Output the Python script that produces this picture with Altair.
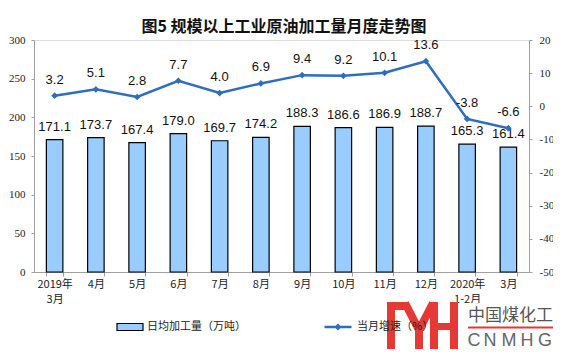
import altair as alt
import pandas as pd

# ---- data ----
months = ["2019年|3月", "4月", "5月", "6月", "7月", "8月", "9月", "10月",
          "11月", "12月", "2020年|1-2月", "3月"]
daily = [171.1, 173.7, 167.4, 179.0, 169.7, 174.2, 188.3, 186.6, 186.9, 188.7, 165.3, 161.4]
growth = [3.2, 5.1, 2.8, 7.7, 4.0, 6.9, 9.4, 9.2, 10.1, 13.6, -3.8, -6.6]
series_bar = "日均加工量（万吨）"
series_line = "当月增速（%）"
title_text = "图5 规模以上工业原油加工量月度走势图"
left_ticks = [0, 50, 100, 150, 200, 250, 300]
right_ticks = [-50, -40, -30, -20, -10, 0, 10, 20]

df = pd.DataFrame({"month": months, "daily": daily, "growth": growth,
                   "s1": series_bar, "s2": series_line})

BAR_FILL = "#99CCFF"
LINE_COL = "#2F6EBD"
AXIS_COL = "#A0A0A0"
CJK = "Noto Sans CJK SC"
MINUS = "\u2212"

# plot origin on the page
OX, OY = 34, 40

x_enc = alt.X("month:N", sort=months,
              scale=alt.Scale(paddingInner=0.6, paddingOuter=0.3),
              axis=alt.Axis(title=None, labelAngle=0, labelExpr="split(datum.label, '|')",
                            labelFont=CJK, labelFontSize=11, labelLineHeight=15,
                            labelBaseline="top", labelPadding=2, labelColor="#222",
                            tickBand="extent", tickSize=4,
                            domainColor=AXIS_COL, tickColor=AXIS_COL))

yl = alt.Y("daily:Q", scale=alt.Scale(domain=[0, 300], nice=False),
           axis=alt.Axis(title=None, values=left_ticks, labelFont="Liberation Serif",
                         labelFontSize=11, labelPadding=6, tickSize=3, labelColor="#222",
                         domainColor=AXIS_COL, tickColor=AXIS_COL, grid=False))

yr = alt.Y("growth:Q", scale=alt.Scale(domain=[-50, 20], nice=False),
           axis=alt.Axis(title=None, orient="right", values=right_ticks,
                         labelExpr="'' + datum.value",
                         labelFont="Liberation Serif", labelFontSize=11, labelPadding=7,
                         tickSize=3, labelColor="#222",
                         domainColor=AXIS_COL, tickColor=AXIS_COL, grid=False))

base = alt.Chart(df)

bars = base.mark_bar(stroke="black", strokeWidth=1.2).encode(
    x=x_enc, y=yl,
    color=alt.Color("s1:N", scale=alt.Scale(domain=[series_bar], range=[BAR_FILL]),
                    legend=alt.Legend(title=None, orient="none", legendX=82, legendY=273,
                                      symbolType="M-1,-0.27L1,-0.27L1,0.27L-1,0.27Z",
                                      symbolSize=676, symbolStrokeColor="black",
                                      symbolStrokeWidth=1.2, symbolFillColor=BAR_FILL,
                                      labelFont=CJK, labelFontSize=11, labelColor="#222",
                                      labelOffset=3, padding=0)))
bar_text = base.mark_text(dy=-13, baseline="middle", font="Liberation Sans",
                          fontSize=13, color="#111").encode(
    x=alt.X("month:N", sort=months), y=yl, text=alt.Text("daily:Q", format=".1f"))

left_layer = alt.layer(bars, bar_text)

line = base.mark_line(strokeWidth=2.5).encode(
    x=alt.X("month:N", sort=months), y=yr,
    stroke=alt.Stroke("s2:N", scale=alt.Scale(domain=[series_line], range=[LINE_COL]),
                      legend=alt.Legend(title=None, orient="none", legendX=289, legendY=272,
                                        symbolType="M-1,0L1,0M-0.13,0L0,-0.13L0.13,0L0,0.13Z",
                                        symbolSize=729, symbolStrokeWidth=2.5,
                                        symbolFillColor=LINE_COL,
                                        labelFont=CJK, labelFontSize=11, labelColor="#222",
                                        labelOffset=4, padding=0)))
pts = base.mark_point(shape="diamond", filled=True, size=45, color=LINE_COL, opacity=1).encode(
    x=alt.X("month:N", sort=months), y=yr)
line_text = base.transform_calculate(
    glabel=f"replace(format(datum.growth, '.1f'), '{MINUS}', '-')"
).mark_text(dy=-16, baseline="middle", font="Liberation Sans",
            fontSize=13, color="#111").encode(
    x=alt.X("month:N", sort=months), y=yr, text="glabel:N")

right_layer = alt.layer(line, pts, line_text)

# ---- title and watermark decoration (page coordinates converted to plot coords) ----
one = alt.Data(values=[{}])
RED = "#E53935"


def rect(x1, y1, x2, y2, color, opacity=1.0):
    return alt.Chart(one).mark_rect(color=color, opacity=opacity).encode(
        x=alt.value(x1 - OX), x2=alt.value(x2 - OX),
        y=alt.value(y1 - OY), y2=alt.value(y2 - OY))


def seg(x1, y1, x2, y2, color, w):
    return alt.Chart(one).mark_rule(color=color, strokeWidth=w, strokeCap="butt").encode(
        x=alt.value(x1 - OX), x2=alt.value(x2 - OX),
        y=alt.value(y1 - OY), y2=alt.value(y2 - OY))


def txt(s, x, y, size, color, align="left", font=CJK, weight="normal"):
    return alt.Chart(one).mark_text(text=s, align=align, baseline="middle", font=font,
                                    fontSize=size, color=color, fontWeight=weight).encode(
        x=alt.value(x - OX), y=alt.value(y - OY))


deco = [
    txt(title_text, 284, 27, 16, "#111111", align="center", weight="bold"),
    rect(387, 303, 560, 357, "white", 0.85),
    rect(387, 302, 395, 352, RED),
    rect(387, 302, 409, 310, RED),
    seg(405, 303, 419, 330, RED, 8),
    seg(433, 303, 419, 330, RED, 8),
    rect(415, 326, 423, 352, RED),
    rect(430, 302, 438, 352, RED),
    rect(450, 302, 458, 352, RED),
    rect(438, 323, 450, 330, RED),
    txt("中国煤化工", 468, 316, 17, "#555555"),
    rect(468, 326.5, 553, 328.5, RED),
]
for ch, cx in zip(["C", "N", "M", "H", "G"], [474, 490, 509, 527, 545]):
    deco.append(txt(ch, cx, 341, 18, "#666666", align="center", font="Liberation Sans"))

chart = alt.layer(left_layer, right_layer, *deco).resolve_scale(y="independent").properties(
    width=495, height=232,
    padding={"left": 26, "top": 32, "right": 24, "bottom": 77},
    autosize=alt.AutoSizeParams(type="none"),
).configure_view(stroke=None).configure(background="white")

chart.save("out.html", embed_options={"renderer": "svg", "actions": False})
